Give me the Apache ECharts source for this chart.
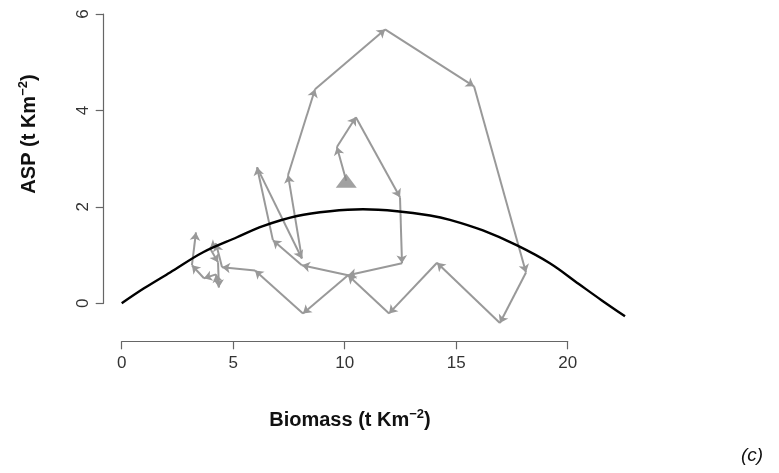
<!DOCTYPE html>
<html>
<head>
<meta charset="utf-8">
<script src="https://cdn.jsdelivr.net/npm/echarts@6/dist/echarts.min.js"></script>
<style>
  html, body { margin: 0; padding: 0; background: #fff; }
  #chart { width: 779px; height: 473px; }
</style>
</head>
<body>
<div id="chart"></div>
<script>
// Yearly trajectory of biomass vs. annual surplus production (start marked by the triangle)
const biomass = [10.07, 9.65, 10.50, 12.48, 12.57, 10.15, 8.08, 6.78, 6.07, 8.08, 7.46, 8.67,
                 11.81, 15.80, 18.13, 16.96, 14.14, 11.99, 10.15, 8.13, 5.98, 4.50,
                 4.23, 3.96, 4.32, 4.36, 4.23, 3.69, 3.15, 3.33];
const asp     = [2.54, 3.24, 3.86, 2.20, 0.83, 0.58, 0.79, 1.31, 2.82, 0.93, 2.66, 4.44,
                 5.68, 4.50, 0.64, -0.41, 0.84, -0.21, 0.58, -0.21, 0.68, 0.75,
                 1.24, 1.14, 0.85, 0.33, 0.60, 0.52, 0.79, 1.47];

// Fitted surplus-production curve
const curveB = [0, 1.0, 2.17, 3.65, 5.17, 6.33, 7.86, 9.34, 10.82, 12.35, 13.83, 14.72,
                16.2, 17.73, 19.2, 20.5, 21.5, 22.57];
const curveP = [0, 0.31, 0.64, 1.06, 1.37, 1.60, 1.81, 1.91, 1.95, 1.91, 1.82, 1.73,
                1.51, 1.20, 0.83, 0.40, 0.07, -0.27];

const xTicks = [0, 5, 10, 15, 20];
const yTicks = [0, 2, 4, 6];

const trackColor = '#999999';
const axisColor = '#666666';
const font = 'Liberation Sans, Arial, Helvetica, sans-serif';

const segments = [];
for (let i = 0; i < biomass.length - 1; i++) {
  segments.push({ coords: [[biomass[i], asp[i]], [biomass[i + 1], asp[i + 1]]] });
}
const curve = curveB.map((b, i) => [b, curveP[i]]);

// Draws the whole production curve as one smoothed path (may extend past the last tick)
function renderCurve(params, api) {
  if (params.dataIndex !== 0) return null;
  const pts = curve.map(p => api.coord(p));
  return {
    type: 'polyline',
    shape: { points: pts, smooth: 0.35 },
    style: { stroke: '#000', lineWidth: 2.4, fill: null }
  };
}

const chart = echarts.init(document.getElementById('chart'), null, { renderer: 'canvas' });
chart.setOption({
  animation: false,
  backgroundColor: '#ffffff',
  grid: { left: 121.7, right: 211.3, top: 14, bottom: 169.7, containLabel: false },
  xAxis: {
    type: 'value',
    min: xTicks[0], max: xTicks[xTicks.length - 1], interval: 5,
    offset: 38,
    axisLine: { show: true, onZero: false, lineStyle: { color: axisColor, width: 1.2 } },
    axisTick: { show: true, length: 8, lineStyle: { color: axisColor, width: 1.2 } },
    axisLabel: { fontSize: 17, color: '#333', margin: 14, fontFamily: font },
    splitLine: { show: false }
  },
  yAxis: {
    type: 'value',
    min: yTicks[0], max: yTicks[yTicks.length - 1], interval: 2,
    offset: 18,
    axisLine: { show: true, onZero: false, lineStyle: { color: axisColor, width: 1.2 } },
    axisTick: { show: true, length: 8, lineStyle: { color: axisColor, width: 1.2 } },
    axisLabel: { fontSize: 17, color: '#333', margin: 12, rotate: 90, fontFamily: font },
    splitLine: { show: false }
  },
  series: [
    {
      type: 'custom',
      coordinateSystem: 'cartesian2d',
      data: curve,
      encode: { x: 0, y: 1 },
      clip: false,
      renderItem: renderCurve,
      z: 3
    },
    {
      type: 'lines',
      coordinateSystem: 'cartesian2d',
      data: segments,
      clip: false,
      symbol: ['none', 'arrow'],
      symbolSize: 8,
      lineStyle: { color: trackColor, width: 2, opacity: 1, curveness: 0 },
      itemStyle: { color: trackColor },
      z: 2
    },
    {
      type: 'scatter',
      data: [[biomass[0], asp[0]]],
      symbol: 'triangle',
      symbolSize: [21, 14],
      itemStyle: { color: '#8a8a8a' },
      z: 4
    }
  ],
  graphic: [
    {
      type: 'text',
      x: 350, y: 420,
      style: {
        text: '{b|Biomass (t Km}{s|−2}{b|)}',
        align: 'center', verticalAlign: 'middle',
        rich: {
          b: { fontSize: 20, fontWeight: 'bold', fontFamily: font, fill: '#111', lineHeight: 24 },
          s: { fontSize: 13, fontWeight: 'bold', fontFamily: font, fill: '#111', verticalAlign: 'top', lineHeight: 24, padding: [0, 0, 8, 0] }
        }
      }
    },
    {
      type: 'text',
      x: 29, y: 134,
      rotation: Math.PI / 2,
      style: {
        text: '{b|ASP (t Km}{s|−2}{b|)}',
        align: 'center', verticalAlign: 'middle',
        rich: {
          b: { fontSize: 20, fontWeight: 'bold', fontFamily: font, fill: '#111', lineHeight: 24 },
          s: { fontSize: 13, fontWeight: 'bold', fontFamily: font, fill: '#111', verticalAlign: 'top', lineHeight: 24, padding: [0, 0, 8, 0] }
        }
      }
    },
    {
      type: 'text',
      x: 752, y: 456,
      style: {
        text: '(c)',
        align: 'center', verticalAlign: 'middle',
        fontSize: 19, fontStyle: 'italic', fontFamily: font, fill: '#111'
      }
    }
  ]
});
</script>
</body>
</html>
